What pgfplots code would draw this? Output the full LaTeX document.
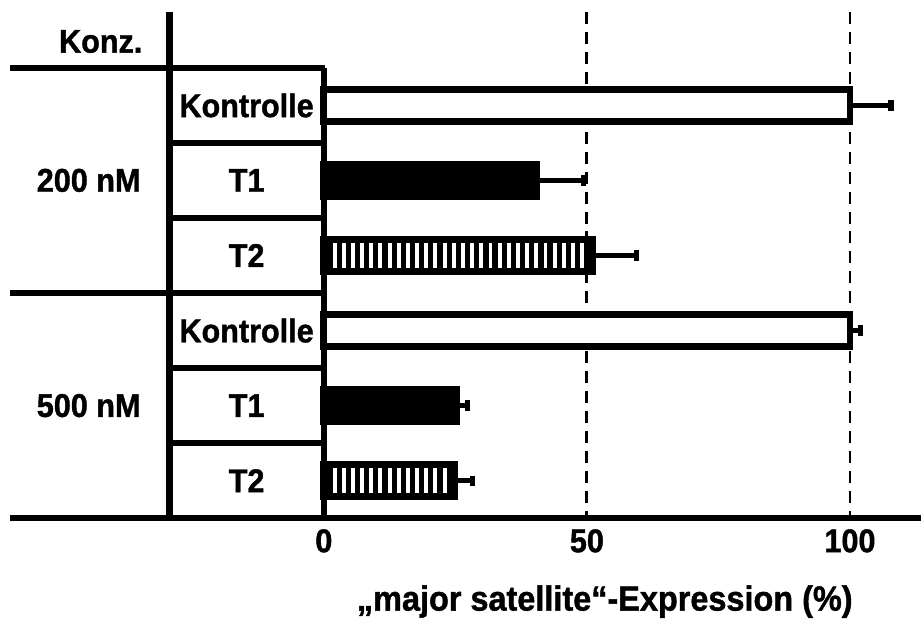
\documentclass[border=0pt]{standalone}
\usepackage{pgfplots}
\pgfplotsset{compat=1.18}
\usepackage{fontspec}
\setmainfont[FakeStretch=0.93, BoldFeatures={FakeBold=1.2}]{Liberation Sans}
\usetikzlibrary{patterns.meta}
\newcommand{\labfont}{\fontsize{16.5}{19}\selectfont\bfseries}
\newcommand{\xlabfont}{\fontsize{17.5}{20}\selectfont\bfseries}
\pgfplotsset{
  every error bar/.append style={line width=2.8pt, black},
}
\begin{document}
\begin{tikzpicture}
\begin{axis}[
  scale only axis, width=299.5pt, height=226pt,
  xmin=0, xmax=113.45, ymin=0.5, ymax=6.5,
  xbar, bar width=16pt, bar shift=0pt,
  axis line style={draw=none},
  ytick=\empty, xtick={0,50,100}, major tick length=0pt,
  xticklabel style={font=\labfont, yshift=-2pt},
  /pgf/number format/assume math mode=true,
  clip=false,
  error bars/error bar style={line width=2.8pt},
  error bars/error mark=|,
  error bars/error mark options={black, line width=2.6pt, mark size=2.6pt},
]
% reference lines
\draw[line width=1.5pt, dash pattern=on 6pt off 4pt] (axis cs:50,7.24) -- (axis cs:50,0.5);
\draw[line width=1.5pt, dash pattern=on 6pt off 4pt] (axis cs:100,7.24) -- (axis cs:100,0.5);

% Kontrolle
\addplot[fill=white, draw=black, line width=3.5pt,
  error bars/.cd, x dir=plus, x explicit]
  coordinates {(100,6) +- (7.8,0) (100,3) +- (2,0)};
% T1
\addplot[fill=black, draw=black, line width=3.5pt,
  error bars/.cd, x dir=plus, x explicit]
  coordinates {(40.4,5) +- (8.9,0) (25.3,2) +- (2,0)};
% T2
\addplot[fill=white, pattern={Lines[angle=90,distance=4.6pt,line width=2.6pt]}, pattern color=black,
  draw=black, line width=3.5pt,
  error bars/.cd, x dir=plus, x explicit]
  coordinates {(51,4) +- (8.4,0) (24.9,1) +- (3.3,0)};

% table frame
\draw[line width=3.25pt] (axis cs:-59.66,6.5) -- (axis cs:0.3,6.5);
\draw[line width=3.25pt] (axis cs:-59.66,3.5) -- (axis cs:0.3,3.5);
\draw[line width=3.25pt] (axis cs:-59.66,0.5) -- (axis cs:113.45,0.5);
\draw[line width=3.25pt] (axis cs:-29.36,7.24) -- (axis cs:-29.36,0.5);
\draw[line width=3.25pt] (axis cs:0,6.5) -- (axis cs:0,0.5);
\draw[line width=2.75pt] (axis cs:-29.36,5.5) -- (axis cs:0,5.5);
\draw[line width=2.75pt] (axis cs:-29.36,4.5) -- (axis cs:0,4.5);
\draw[line width=2.75pt] (axis cs:-29.36,2.5) -- (axis cs:0,2.5);
\draw[line width=2.75pt] (axis cs:-29.36,1.5) -- (axis cs:0,1.5);

% labels
\node[font=\labfont] at (axis cs:-42.4,6.85) {Konz.};
\node[font=\labfont] at (axis cs:-44.7,5) {200 nM};
\node[font=\labfont] at (axis cs:-44.7,2) {500 nM};
\node[font=\labfont] at (axis cs:-14.68,6) {Kontrolle};
\node[font=\labfont] at (axis cs:-14.68,5) {T1};
\node[font=\labfont] at (axis cs:-14.68,4) {T2};
\node[font=\labfont] at (axis cs:-14.68,3) {Kontrolle};
\node[font=\labfont] at (axis cs:-14.68,2) {T1};
\node[font=\labfont] at (axis cs:-14.68,1) {T2};
\node[font=\xlabfont] at (axis cs:53.4,-0.61) {„major satellite“-Expression (\%)};

% bounding box
\path (axis cs:-61.55,7.403) rectangle (axis cs:113.45,-0.92);
\end{axis}
\end{tikzpicture}
\end{document}
